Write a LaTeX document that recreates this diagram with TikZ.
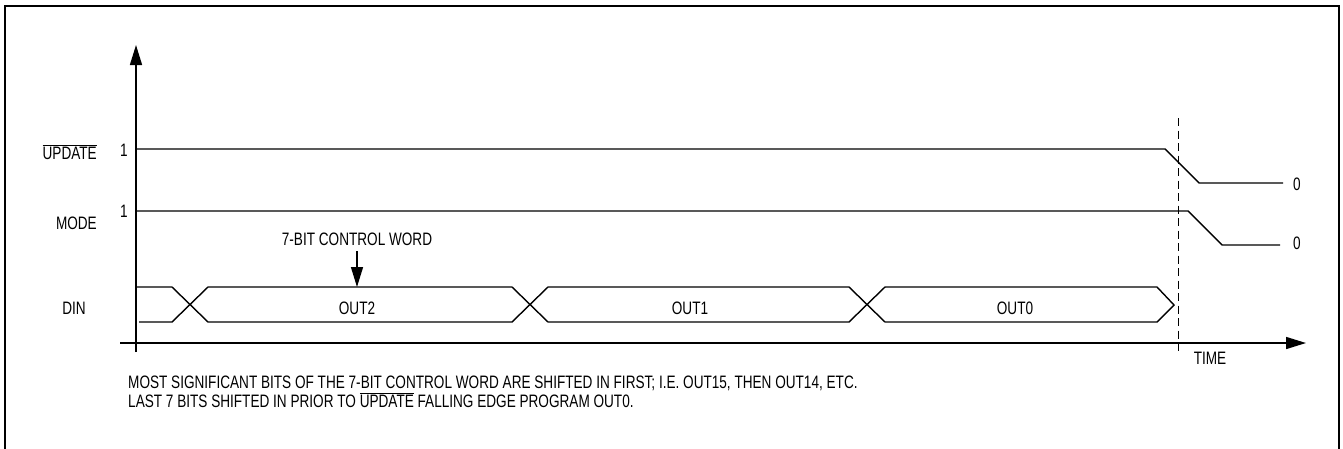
\documentclass[tikz,border=0pt]{standalone}
\usepackage{fontspec}
\setmainfont{Liberation Sans}[FakeStretch=0.755]
\usetikzlibrary{arrows.meta}
\begin{document}
\begin{tikzpicture}[x=1pt,y=-1pt,
  sig/.style={line width=1.4pt,line join=miter},
  axis/.style={line width=1.5pt},
  lbl/.style={inner sep=0pt,font=\fontsize{18}{20}\selectfont},
  frame/.style={line width=2.2pt}]
\useasboundingbox (0,0) rectangle (1343,448);
% outer frame (bottom edge outside the picture)
\draw[frame] (5,470) -- (5,6) -- (1339,6) -- (1339,470);
% axes
\coordinate (yb) at (136,352);
\coordinate (yt) at (136,45);
\coordinate (xl) at (120,343);
\coordinate (xr) at (1306,343);
\draw[axis,-{Triangle[length=20pt,width=12pt]}] (yb) -- (yt);
\draw[axis,-{Triangle[length=20pt,width=12pt]}] (xl) -- (xr);
% dashed marker
\coordinate (dt) at (1178,118);
\coordinate (db) at (1178,352);
\draw[line width=1pt,dash pattern=on 8pt off 4.5pt] (dt) -- (db);
% UPDATE waveform
\draw[sig] (137,149) -- (1165,149) -- (1199,183) -- (1283,183);
% MODE waveform
\draw[sig] (137,211) -- (1188,211) -- (1222,245) -- (1280,245);
% DIN waveform
\draw[sig] (137,287) -- (172,287) -- (208,322) -- (512,322) -- (548,287) -- (849,287) -- (885,322) -- (1157,322) -- (1174,305) -- (1157,287) -- (885,287) -- (849,322) -- (548,322) -- (512,287) -- (208,287) -- (172,322) -- (139,322);
% labels
\node[lbl,anchor=east] (lupd) at (97,152) {$\overline{\mbox{UPDATE}}$};
\node[lbl] (lupd1) at (124,150) {1};
\node[lbl,anchor=east] (lmode) at (97,223) {MODE};
\node[lbl] (lmode1) at (124,211) {1};
\node[lbl] (lupd0) at (1297,184) {0};
\node[lbl] (lmode0) at (1297,243) {0};
\node[lbl] (ldin) at (74,308) {DIN};
\node[lbl] (lout2) at (357,308) {OUT2};
\node[lbl] (lout1) at (690,308) {OUT1};
\node[lbl] (lout0) at (1015,308) {OUT0};
\node[lbl] (ltime) at (1210,358) {TIME};
\node[lbl] (lcw) at (357,239) {7-BIT CONTROL WORD};
\coordinate (cwtail) at (357,251);
\coordinate (cwtip) at (357,287);
\draw[line width=1.4pt,-{Triangle[length=20pt,width=12pt]}] (cwtail) -- (cwtip);
\node[lbl,anchor=west] (note1) at (128,383) {MOST SIGNIFICANT BITS OF THE 7-BIT CONTROL WORD ARE SHIFTED IN FIRST; I.E. OUT15, THEN OUT14, ETC.};
\node[lbl,anchor=west] (note2) at (128,400) {LAST 7 BITS SHIFTED IN PRIOR TO $\overline{\mbox{UPDATE}}$ FALLING EDGE PROGRAM OUT0.};
\end{tikzpicture}
\end{document}
